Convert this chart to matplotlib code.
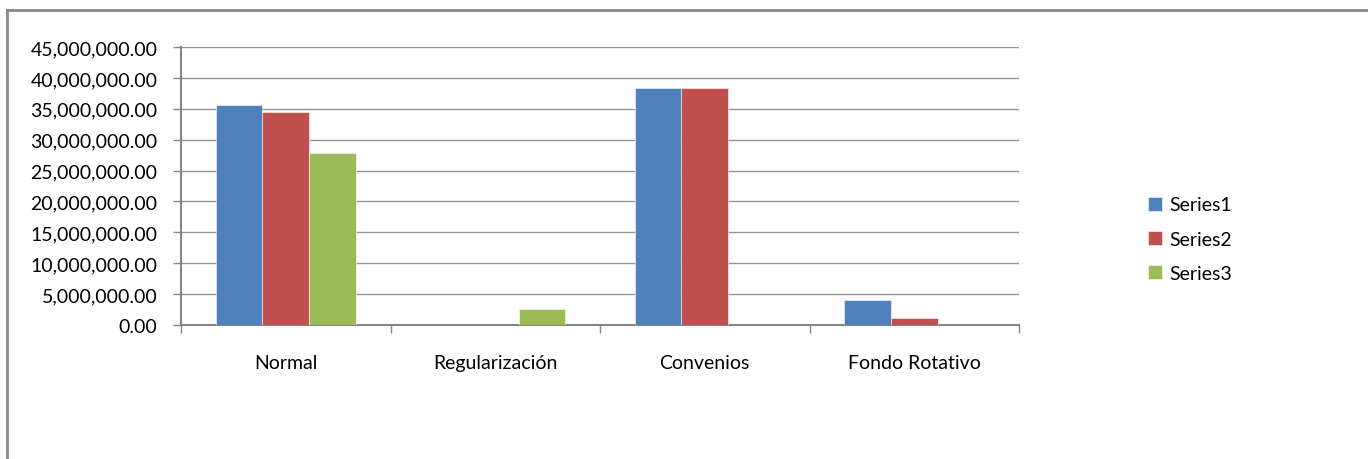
import numpy as np
import matplotlib
matplotlib.use("Agg")
import matplotlib.pyplot as plt
from matplotlib.lines import Line2D
from matplotlib.ticker import FuncFormatter, MultipleLocator

categories = ["Normal", "Regularización", "Convenios", "Fondo Rotativo"]
series_names = ["Series1", "Series2", "Series3"]
series1 = [35600000, 0, 38300000, 4000000]
series2 = [34500000, 0, 38300000, 1100000]
series3 = [27800000, 2600000, 0, 0]
colors = ["#4F81BD", "#C0504D", "#9BBB59"]

plt.rcParams['font.family'] = ['Lato', 'DejaVu Sans']

fig = plt.figure(figsize=(13.68, 4.6), dpi=100)
ax = fig.add_axes([181 / 1368, 1 - 326 / 460, (1019 - 181) / 1368, (326 - 48) / 460])

x = np.arange(len(categories))
w = 0.222
for i, (vals, name) in enumerate(zip([series1, series2, series3], series_names)):
    ax.bar(x + (i - 1) * w, vals, width=w, color=colors[i], label=name,
           edgecolor="white", linewidth=0.4, zorder=3)

ax.set_xlim(-0.5, len(categories) - 0.5)
ax.set_ylim(0, 45000000)
ax.yaxis.set_major_locator(MultipleLocator(5000000))
ax.yaxis.set_major_formatter(FuncFormatter(lambda v, p: f"{v:,.2f}"))
ax.grid(axis="y", color="#959595", linewidth=1.0, zorder=0)

ax.set_xticks(np.arange(-0.5, len(categories)), minor=False)
ax.set_xticklabels([])
ax.set_xticks(x, minor=True)
ax.set_xticklabels(categories, minor=True)
ax.tick_params(axis="x", which="major", length=6, width=1, color="#868686", direction="out")
ax.tick_params(axis="x", which="minor", length=0, pad=21, labelsize=14)
ax.tick_params(axis="y", length=6, width=1, color="#868686", direction="out", labelsize=14, pad=11)

for s in ["top", "right"]:
    ax.spines[s].set_visible(False)
for s in ["left", "bottom"]:
    ax.spines[s].set_color("#868686")
    ax.spines[s].set_linewidth(1.5)

leg = fig.legend(loc="upper left", bbox_to_anchor=(1130 / 1368, 1 - 180 / 460),
                 frameon=False, fontsize=14, handlelength=0.75, handleheight=0.75,
                 handletextpad=0.35, labelspacing=0.88)

# chart outer border (top and left visible)
fig.add_artist(Line2D([7 / 1368, 7 / 1368], [0, 1 - 11 / 460], transform=fig.transFigure,
                      color="#888888", linewidth=2))
fig.add_artist(Line2D([7 / 1368, 1], [1 - 11 / 460, 1 - 11 / 460], transform=fig.transFigure,
                      color="#888888", linewidth=2))

fig.savefig("out.png", dpi=100)
